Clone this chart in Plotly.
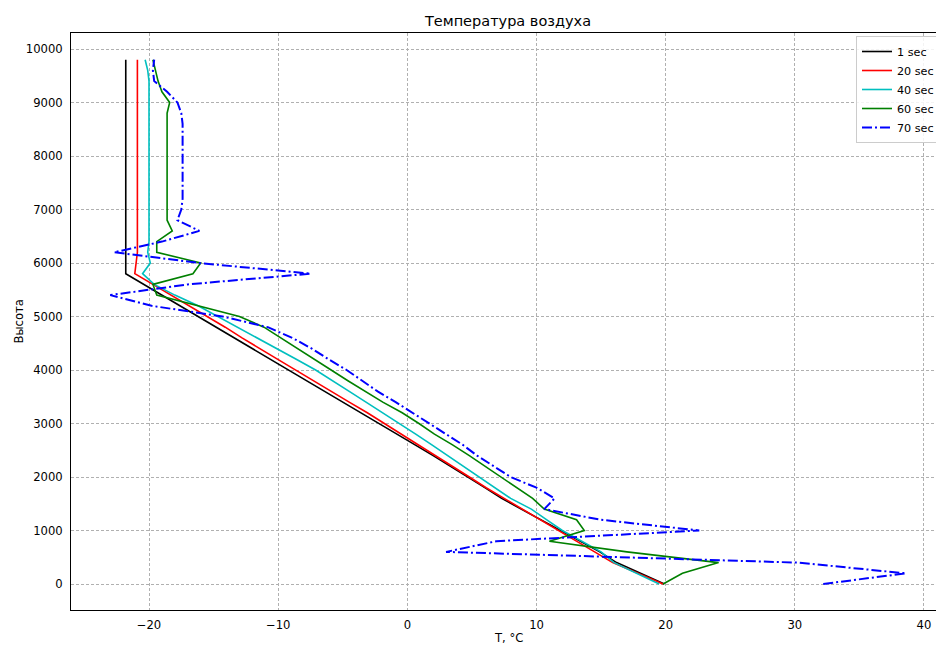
import plotly.graph_objects as go

# Heights of the model levels, m
heights = list(range(0, 10000, 200))

# Air temperature, °C, at each level for each moment of time
t_1s = [19.9, 18.1, 16.2, 14.9, 13.4, 11.9, 10.4, 8.85, 7.3, 6.0,
        4.7, 3.3, 2.0, 0.6, -0.8, -2.2, -3.6, -5.0, -6.4, -7.8,
        -9.1, -10.5, -11.9, -13.3, -14.7, -16.1, -17.5, -19.0, -20.4, -21.8,
        -21.8, -21.8, -21.8, -21.8, -21.8, -21.8, -21.8, -21.8, -21.8, -21.8,
        -21.8, -21.8, -21.8, -21.8, -21.8, -21.8, -21.8, -21.8, -21.8, -21.8]

t_20s = [19.8, 17.9, 15.9, 14.5, 13.1, 11.7, 10.25, 8.85, 7.5, 6.1,
         4.8, 3.5, 2.2, 0.9, -0.45, -1.8, -3.1, -4.5, -5.9, -7.3,
         -8.7, -10.0, -11.4, -12.8, -14.1, -15.5, -16.9, -18.3, -19.8, -21.1,
         -21.0, -20.9, -20.9, -20.9, -20.9, -20.9, -20.9, -20.9, -20.9, -20.9,
         -20.9, -20.9, -20.9, -20.9, -20.9, -20.9, -20.9, -20.9, -20.9, -20.9]

t_40s = [19.5, 17.8, 16.0, 15.0, 13.5, 12.0, 10.8, 9.6, 8.0, 6.8,
         5.6, 4.3, 3.1, 1.9, 0.65, -0.6, -1.9, -3.2, -4.5, -5.8,
         -7.1, -8.6, -10.1, -11.6, -13.1, -14.7, -16.2, -18.0, -19.6, -20.5,
         -19.9, -20.1, -20.0, -20.0, -20.0, -20.0, -20.0, -20.0, -20.0, -20.0,
         -20.0, -20.0, -20.0, -20.0, -20.0, -20.0, -20.0, -20.0, -20.1, -20.3]

t_60s = [19.8, 21.3, 24.1, 17.0, 11.0, 13.7, 13.1, 10.6, 9.7, 8.5,
         7.3, 6.0, 4.8, 3.5, 2.1, 0.9, -0.4, -1.9, -3.3, -4.6,
         -5.9, -7.2, -8.5, -9.8, -11.1, -13.0, -16.3, -19.4, -19.7, -16.6,
         -16.0, -19.4, -19.4, -18.2, -18.6, -18.6, -18.6, -18.6, -18.6, -18.6,
         -18.6, -18.6, -18.6, -18.6, -18.6, -18.4, -19.0, -19.3, -19.5, -19.7]

t_70s = [32.2, 38.6, 30.2, 3.0, 6.9, 22.6, 15.0, 10.6, 11.4, 10.0,
         8.0, 6.7, 5.4, 4.3, 3.0, 1.8, 0.5, -0.9, -2.3, -3.5,
         -4.7, -6.1, -7.4, -8.9, -10.8, -14.3, -19.8, -23.0, -17.0, -7.5,
         -16.1, -22.7, -19.0, -16.1, -17.8, -17.5, -17.4, -17.4, -17.4, -17.4,
         -17.4, -17.4, -17.4, -17.4, -17.5, -17.8, -18.6, -19.6, -19.7, -19.6]

series_names = ["1 sec", "20 sec", "40 sec", "60 sec", "70 sec"]
series_values = [t_1s, t_20s, t_40s, t_60s, t_70s]
series_colors = ["#000000", "#ff0000", "#00bfbf", "#008000", "#0000ff"]
series_dash = ["solid", "solid", "solid", "solid", "10px,3px,2px,3px"]
series_width = [1.6, 1.6, 1.6, 1.6, 2.0]

x_ticks = [-20, -10, 0, 10, 20, 30, 40]
y_ticks = list(range(0, 10001, 1000))
y_tick_labels = [str(v) for v in y_ticks]

FONT = "DejaVu Sans"

fig = go.Figure()
for name, vals, col, dash, w in zip(series_names, series_values, series_colors,
                                    series_dash, series_width):
    fig.add_trace(go.Scatter(
        x=vals, y=heights, mode="lines", name=name,
        line=dict(color=col, width=w, dash=dash),
    ))

W, H = 936, 648
ml, mr, mt, mb = 71, 0, 33, 38
pw, ph = W - ml - mr, H - mt - mb

fig.update_layout(
    width=W, height=H,
    margin=dict(l=ml, r=mr, t=mt, b=mb, pad=0, autoexpand=False),
    paper_bgcolor="white", plot_bgcolor="white",
    font=dict(family=FONT, size=11.6, color="#000000"),
    title=dict(text="Температура воздуха", x=(508 - ml) / pw, xref="paper",
               xanchor="center", y=1 - 21 / H, yref="container",
               yanchor="middle", font=dict(family=FONT, size=14.5)),
    showlegend=True,
    legend=dict(x=(856 - ml) / pw, y=1 - 3 / ph, xanchor="left", yanchor="top",
                bgcolor="rgba(255,255,255,0.85)", bordercolor="#cccccc",
                borderwidth=1, font=dict(family=FONT, size=11.2),
                tracegroupgap=0, itemwidth=30),
)

fig.update_xaxes(
    range=[-26.04, 40.93], tickvals=x_ticks, showgrid=True,
    gridcolor="#b0b0b0", griddash="3px,2px", gridwidth=0.8,
    zeroline=False, showline=True, linecolor="#000000", linewidth=1,
    mirror=True, ticks="", ticklabelstandoff=4, automargin=False,
)
fig.update_yaxes(
    range=[-486, 10299], tickvals=y_ticks, ticktext=y_tick_labels,
    showgrid=True, gridcolor="#b0b0b0", griddash="3px,2px", gridwidth=0.8,
    zeroline=False, showline=True, linecolor="#000000", linewidth=1,
    mirror=False, ticks="", ticklabelstandoff=5, automargin=False,
)

fig.add_annotation(text="T, °C", xref="paper", yref="paper",
                   x=(508 - ml) / pw, y=-(638 - (mt + ph)) / ph,
                   xanchor="center", yanchor="middle", showarrow=False,
                   font=dict(family=FONT, size=11.6))
fig.add_annotation(text="Высота", xref="paper", yref="paper",
                   x=-(ml - 18) / pw, y=0.5, textangle=-90,
                   xanchor="center", yanchor="middle", showarrow=False,
                   font=dict(family=FONT, size=11.6))

fig.write_html("out.html")
